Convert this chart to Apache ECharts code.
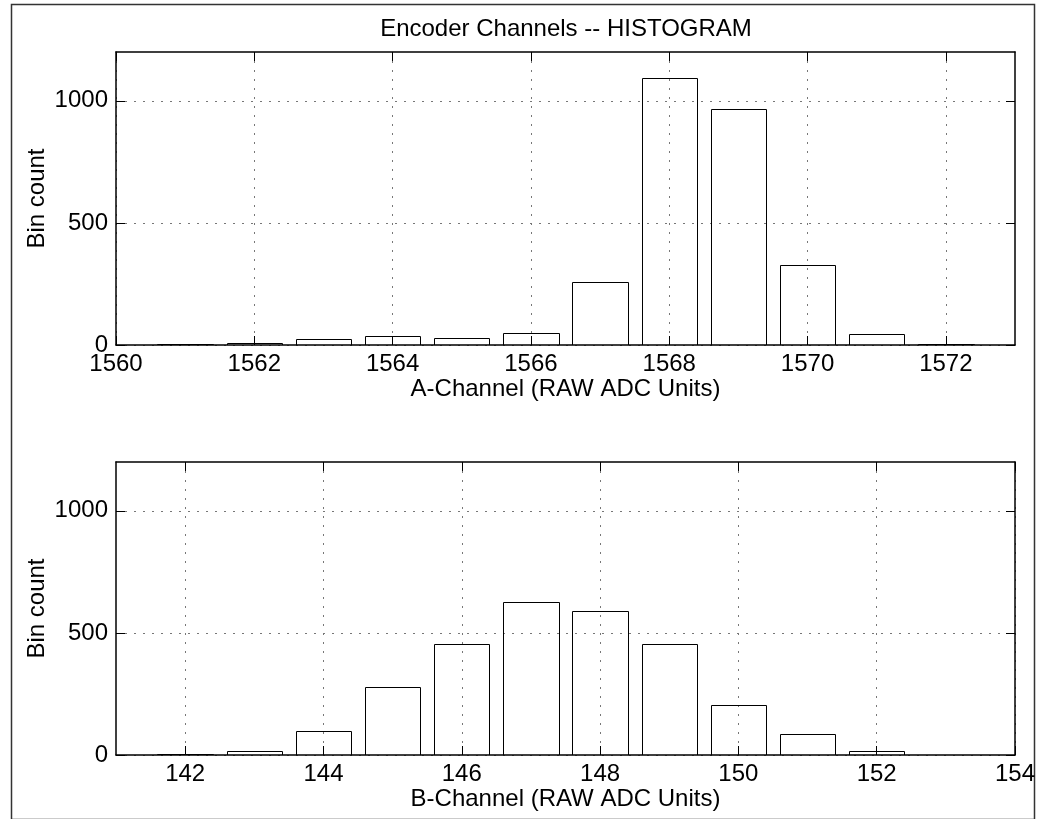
<!DOCTYPE html>
<html>
<head>
<meta charset="utf-8">
<script src="https://cdn.jsdelivr.net/npm/echarts@6/dist/echarts.min.js"></script>
<style>
  html, body { margin: 0; padding: 0; background: #fff; }
  #chart { width: 1041px; height: 819px; }
</style>
</head>
<body>
<div id="chart"></div>
<script>
// ---- data ----
const aCenters = [1561, 1562, 1563, 1564, 1565, 1566, 1567, 1568, 1569, 1570, 1571, 1572];
const aCounts  = [3, 7, 23, 36, 29, 50, 257, 1093, 966, 328, 44, 5];
const bCenters = [142, 143, 144, 145, 146, 147, 148, 149, 150, 151, 152, 153];
const bCounts  = [4, 16, 97, 278, 455, 627, 590, 455, 204, 85, 16, 0];
const aTicks = [1560, 1562, 1564, 1566, 1568, 1570, 1572];
const bTicks = [142, 144, 146, 148, 150, 152, 154];
const yTicks = [0, 500, 1000];
const aRange = [1560, 1573];
const bRange = [141, 154];
const yRange = [0, 1200];
const titleText = 'Encoder Channels -- HISTOGRAM';
const aLabel = 'A-Channel (RAW ADC Units)';
const bLabel = 'B-Channel (RAW ADC Units)';
const yLabel = 'Bin count';

const FONT = 'Liberation Sans, Arial, Helvetica, sans-serif';
const FS = 24;
const BAR_W = 0.8;

const chart = echarts.init(document.getElementById('chart'), null, { renderer: 'canvas' });

function renderBar(params, api) {
  const x = api.value(0), y = api.value(1);
  const p0 = api.coord([x - BAR_W / 2, y]);
  const p1 = api.coord([x + BAR_W / 2, 0]);
  return {
    type: 'rect',
    shape: { x: Math.round(p0[0]) + 0.5, y: Math.round(p0[1]) + 0.5,
             width: Math.round(p1[0]) - Math.round(p0[0]), height: Math.round(p1[1]) - Math.round(p0[1]) },
    style: { fill: 'rgba(255,255,255,0)', stroke: '#000', lineWidth: 1 }
  };
}

const plain = v => String(v);
const gridLine = { show: true, lineStyle: { color: '#777', width: 1, type: [2, 7] } };
const axLine = { show: true, onZero: false, lineStyle: { color: '#000', width: 1.5 } };

function xMain(gi, range, ticks, name) {
  return {
    type: 'value', gridIndex: gi, min: range[0], max: range[1], position: 'bottom',
    axisLine: axLine,
    axisTick: { show: true, inside: true, length: 9, customValues: ticks, lineStyle: { color: '#000' } },
    axisLabel: { customValues: ticks, formatter: plain, fontSize: FS, color: '#000', fontFamily: FONT, margin: 7 },
    splitLine: gridLine,
    name: name, nameLocation: 'middle', nameGap: 30,
    nameTextStyle: { fontSize: FS, color: '#000', fontFamily: FONT }
  };
}
function xTop(gi, range, ticks) {
  return {
    type: 'value', gridIndex: gi, min: range[0], max: range[1], position: 'top',
    axisLine: axLine,
    axisTick: { show: true, inside: true, length: 9, customValues: ticks, lineStyle: { color: '#000' } },
    axisLabel: { show: false }, splitLine: { show: false }
  };
}
function yMain(gi) {
  return {
    type: 'value', gridIndex: gi, min: yRange[0], max: yRange[1], position: 'left',
    axisLine: axLine,
    axisTick: { show: true, inside: true, length: 9, customValues: yTicks, lineStyle: { color: '#000' } },
    axisLabel: { customValues: yTicks, formatter: plain, fontSize: FS, color: '#000', fontFamily: FONT, margin: 8 },
    splitLine: gridLine,
    name: yLabel, nameLocation: 'middle', nameGap: 67, nameRotate: 90, nameMoveOverlap: false,
    nameTextStyle: { fontSize: FS, color: '#000', fontFamily: FONT }
  };
}
function yRight(gi) {
  return {
    type: 'value', gridIndex: gi, min: yRange[0], max: yRange[1], position: 'right',
    axisLine: axLine,
    axisTick: { show: true, inside: true, length: 9, customValues: yTicks, lineStyle: { color: '#000' } },
    axisLabel: { show: false }, splitLine: { show: false }
  };
}

const option = {
  backgroundColor: '#fff',
  animation: false,
  title: {
    text: titleText, left: 566, textAlign: 'center', top: 17, padding: 0,
    textStyle: { fontSize: FS, fontWeight: 'normal', color: '#000', fontFamily: FONT }
  },
  graphic: [{
    type: 'rect', left: 9, top: 2, z: -10,
    shape: { width: 1023, height: 815 },
    style: { fill: 'none', stroke: '#333', lineWidth: 1.5 }
  }],
  grid: [
    { left: 116, top: 52, width: 899, height: 293 },
    { left: 116, top: 462, width: 899, height: 293 }
  ],
  xAxis: [
    xMain(0, aRange, aTicks, aLabel),
    xMain(1, bRange, bTicks, bLabel),
    xTop(0, aRange, aTicks),
    xTop(1, bRange, bTicks)
  ],
  yAxis: [yMain(0), yMain(1), yRight(0), yRight(1)],
  series: [
    { type: 'custom', xAxisIndex: 0, yAxisIndex: 0, renderItem: renderBar,
      data: aCenters.map((c, i) => [c, aCounts[i]]), clip: true },
    { type: 'custom', xAxisIndex: 1, yAxisIndex: 1, renderItem: renderBar,
      data: bCenters.map((c, i) => [c, bCounts[i]]), clip: true }
  ]
};
chart.setOption(option);
</script>
</body>
</html>
